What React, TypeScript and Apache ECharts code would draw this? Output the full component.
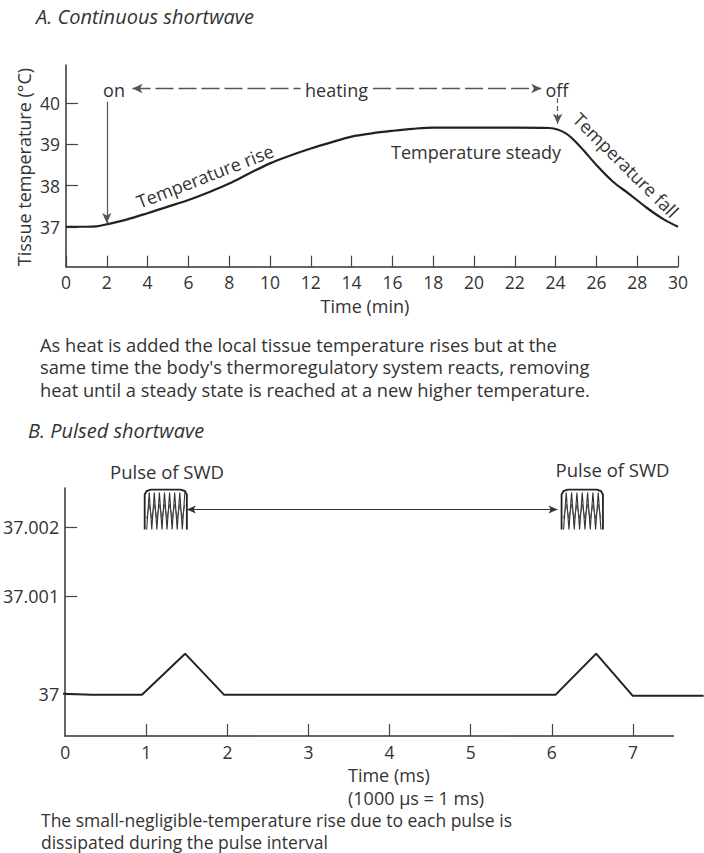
import React, { useEffect, useRef } from 'react';
import * as echarts from 'echarts';

// ---------- Chart A: continuous shortwave ----------
const minutesA = [0, 1, 1.5, 2, 3, 4, 5, 6, 7, 8, 9, 10, 11, 12, 13, 14, 15, 16, 17, 18, 20, 22, 23.7, 24.5, 25.2, 26, 26.8, 27.6, 28.5, 29.3, 30];
const tempA = [37.0, 37.0, 37.01, 37.06, 37.18, 37.33, 37.49, 37.65, 37.84, 38.05, 38.3, 38.54, 38.73, 38.9, 39.05, 39.19, 39.27, 39.33, 39.38, 39.41, 39.41, 39.41, 39.4, 39.27, 38.95, 38.5, 38.1, 37.8, 37.45, 37.18, 37.0];
const yTicksA = [37, 38, 39, 40];

// ---------- Chart B: pulsed shortwave ----------
const msB = [0, 0.35, 0.97, 1.5, 1.98, 6.05, 6.55, 7.0, 7.87];
const tempB = [37.0, 36.99999, 36.99999, 37.00041, 36.99999, 36.99999, 37.00041, 36.99998, 36.99998];
const xTicksB = [0, 1, 2, 3, 4, 5, 6, 7];
const yTickLabelsB = ['37', '37.001', '37.002'];
const pulsesB = [[0.98, 1.5], [6.12, 6.63]];

const FONT = '"Open Sans", "Liberation Sans", sans-serif';
const TXT = '#333';
const LINE = '#222';

export default function App() {
  const ref = useRef<HTMLDivElement>(null);
  useEffect(() => {
    if (!ref.current) return;
    const chart = echarts.init(ref.current, undefined, { renderer: 'svg' });

    const yMinB = 36.99957;
    const yMaxB = 37.0021;
    const xAxisEndB = 7.5; // drawn axis stops here
    const xTraceEndB = 7.87; // trace runs on to the page edge
    const pxPerMs = 81.4;
    const arrowLevelB = 37.00188;
    // schematic (non-linear) tick placement copied from the original figure
    const yTickPosB = [37, 37.001, 37.0017];

    const txt = (text: string, x: number, y: number, size: number, extra: any = {}) => ({
      type: 'text',
      x,
      y,
      rotation: extra.rotation || 0,
      silent: true,
      style: {
        text,
        fill: TXT,
        font: `${extra.italic ? 'italic ' : ''}${size}px ${FONT}`,
        align: extra.align || 'center',
        verticalAlign: 'middle',
      },
    });

    const bodyA = [
      'As heat is added the local tissue temperature rises but at the',
      "same time the body's thermoregulatory system reacts, removing",
      'heat until a steady state is reached at a new higher temperature.',
    ];
    const bodyB = [
      'The small-negligible-temperature rise due to each pulse is',
      'dissipated during the pulse interval',
    ];

    const option: any = {
      animation: false,
      backgroundColor: '#ffffff',
      grid: [
        { left: 66, top: 65, width: 612, height: 201.7 },
        { left: 63, top: 488, width: xAxisEndB * pxPerMs, height: 248 },
        { left: 63, top: 488, width: xTraceEndB * pxPerMs, height: 248 },
      ],
      xAxis: [
        {
          type: 'value', gridIndex: 0, min: 0, max: 30, interval: 2,
          axisLine: { lineStyle: { color: '#333', width: 1.5 } },
          axisTick: { inside: true, length: 11, lineStyle: { color: '#444', width: 1.2 } },
          axisLabel: { color: TXT, fontSize: 17.5, fontFamily: FONT, margin: 6 },
          splitLine: { show: false },
        },
        {
          type: 'value', gridIndex: 1, min: 0, max: xAxisEndB,
          axisLine: { show: true, lineStyle: { color: '#333', width: 1.5 } },
          axisTick: { inside: true, length: 12, customValues: xTicksB.slice(1), lineStyle: { color: '#444', width: 1.2 } },
          axisLabel: { color: TXT, fontSize: 17.5, fontFamily: FONT, margin: 7, customValues: xTicksB },
          splitLine: { show: false },
        },
        {
          type: 'value', gridIndex: 2, min: 0, max: xTraceEndB, show: false,
          splitLine: { show: false },
        },
      ],
      yAxis: [
        {
          type: 'value', gridIndex: 0, min: 36.03, max: 40.93,
          axisLine: { show: true, lineStyle: { color: '#333', width: 1.5 } },
          axisTick: { show: true, inside: true, length: 12, customValues: yTicksA, lineStyle: { color: '#444', width: 1.2 } },
          axisLabel: { color: TXT, fontSize: 17.5, fontFamily: FONT, margin: 6, customValues: yTicksA, formatter: (v: number) => String(Math.round(v)) },
          splitLine: { show: false },
        },
        {
          type: 'value', gridIndex: 1, min: yMinB, max: yMaxB,
          axisLine: { show: true, lineStyle: { color: '#333', width: 1.5 } },
          axisTick: { show: true, inside: true, length: 12, customValues: yTickPosB, lineStyle: { color: '#444', width: 1.2 } },
          axisLabel: {
            color: TXT, fontSize: 18, fontFamily: FONT, margin: 6, customValues: yTickPosB,
            formatter: (v: number) => {
              let best = 0;
              yTickPosB.forEach((p, i) => { if (Math.abs(p - v) < Math.abs(yTickPosB[best] - v)) best = i; });
              return yTickLabelsB[best];
            },
          },
          splitLine: { show: false },
        },
        {
          type: 'value', gridIndex: 2, min: yMinB, max: yMaxB, show: false,
          splitLine: { show: false },
        },
      ],
      series: [
        {
          type: 'line', xAxisIndex: 0, yAxisIndex: 0,
          data: minutesA.map((m, i) => [m, tempA[i]]),
          smooth: 0.35, showSymbol: false, silent: true,
          lineStyle: { color: LINE, width: 2.2 },
          markLine: {
            silent: true, animation: false,
            label: { show: false },
            symbolSize: [7, 10],
            lineStyle: { color: '#555', width: 1.2, type: 'solid' },
            data: [
              [{ coord: [2, 40.04], symbol: 'none' }, { coord: [2, 37.09], symbol: 'arrow' }],
              [{ coord: [3.26, 40.36], symbol: 'arrow', lineStyle: { type: [18, 5], color: '#555', width: 1.4 } }, { coord: [11.5, 40.36], symbol: 'none' }],
              [{ coord: [15.05, 40.36], symbol: 'none', lineStyle: { type: [18, 5], color: '#555', width: 1.4 } }, { coord: [23.3, 40.36], symbol: 'arrow' }],
              [{ coord: [24.1, 40.13], symbol: 'none', lineStyle: { type: [5, 3], color: '#555', width: 1.2 } }, { coord: [24.1, 39.5], symbol: 'arrow' }],
            ],
          },
        },
        {
          type: 'line', xAxisIndex: 2, yAxisIndex: 2,
          data: msB.map((m, i) => [m, tempB[i]]),
          showSymbol: false, silent: true,
          lineStyle: { color: LINE, width: 2 },
        },
        {
          type: 'custom', xAxisIndex: 1, yAxisIndex: 1, silent: true,
          data: pulsesB,
          encode: { x: [0, 1] },
          markLine: {
            silent: true, animation: false,
            label: { show: false },
            symbol: ['arrow', 'arrow'],
            symbolSize: [6, 9],
            lineStyle: { color: '#333', width: 1.2, type: 'solid' },
            data: [
              [{ coord: [pulsesB[0][1], arrowLevelB] }, { coord: [pulsesB[1][0] - 0.05, arrowLevelB] }],
            ],
          },
          renderItem: (params: any, api: any) => {
            const s = api.coord([api.value(0), arrowLevelB]);
            const e = api.coord([api.value(1), arrowLevelB]);
            const x0 = s[0], x1 = e[0], yc = s[1];
            const top = yc - 20, bot = yc + 20;
            const pts: number[][] = [];
            const n = Math.round((x1 - x0 - 4) / 2.6);
            for (let i = 0; i <= n; i++) {
              const x = x0 + 2 + ((x1 - x0 - 4) * i) / n;
              pts.push([x, i % 2 ? top + 3 : bot]);
            }
            const wave: number[][] = [];
            for (let i = 0; i <= n; i++) {
              const x = x0 + 2 + ((x1 - x0 - 4) * i) / n;
              wave.push([x, yc + 2 + (i % 2 ? -7 : 7)]);
            }
            return {
              type: 'group',
              children: [
                {
                  type: 'polyline',
                  shape: { points: [[x0, bot], [x0, top + 5], [x0 + 2, top + 1.5], [x0 + 6, top], [x1 - 6, top], [x1 - 2, top + 1.5], [x1, top + 5], [x1, bot]] },
                  style: { fill: 'none', stroke: '#222', lineWidth: 1.8 },
                },
                { type: 'polyline', shape: { points: pts }, style: { fill: 'none', stroke: '#333', lineWidth: 1.1 } },
                { type: 'polyline', shape: { points: wave }, style: { fill: 'none', stroke: '#444', lineWidth: 0.9 } },
              ],
            };
          },
        },
      ],
      graphic: [
        txt('A. Continuous shortwave', 36, 16, 20, { italic: true, align: 'left' }),
        txt('on', 114, 90, 18),
        txt('heating', 336.5, 90, 18),
        txt('off', 557, 90, 18),
        txt('Temperature rise', 205, 176, 18, { rotation: 0.37 }),
        txt('Temperature steady', 476, 151.7, 18),
        txt('Temperature fall', 626, 165, 18, { rotation: -0.78 }),
        txt('Tissue temperature (\u00B0C)', 24, 167, 18, { rotation: Math.PI / 2 }),
        txt('Time (min)', 365, 306, 18),
        ...bodyA.map((t, i) => txt(t, 40, 344 + i * 22.7, 18.3, { align: 'left' })),
        txt('B. Pulsed shortwave', 28, 430, 20, { italic: true, align: 'left' }),
        txt('Pulse of SWD', 167, 471, 18.5),
        txt('Pulse of SWD', 612.5, 469, 18.5),
        txt('Time (ms)', 348, 775, 18, { align: 'left' }),
        txt('(1000 \u00B5s = 1 ms)', 348, 798, 18, { align: 'left' }),
        ...bodyB.map((t, i) => txt(t, 41, 820 + i * 22, 17.5, { align: 'left' })),
      ],
    };
    chart.setOption(option);
    return () => chart.dispose();
  }, []);
  return (
    <div
      ref={ref}
      style={{ position: 'absolute', left: 0, top: 0, width: 704, height: 853, background: '#fff' }}
    />
  );
}
